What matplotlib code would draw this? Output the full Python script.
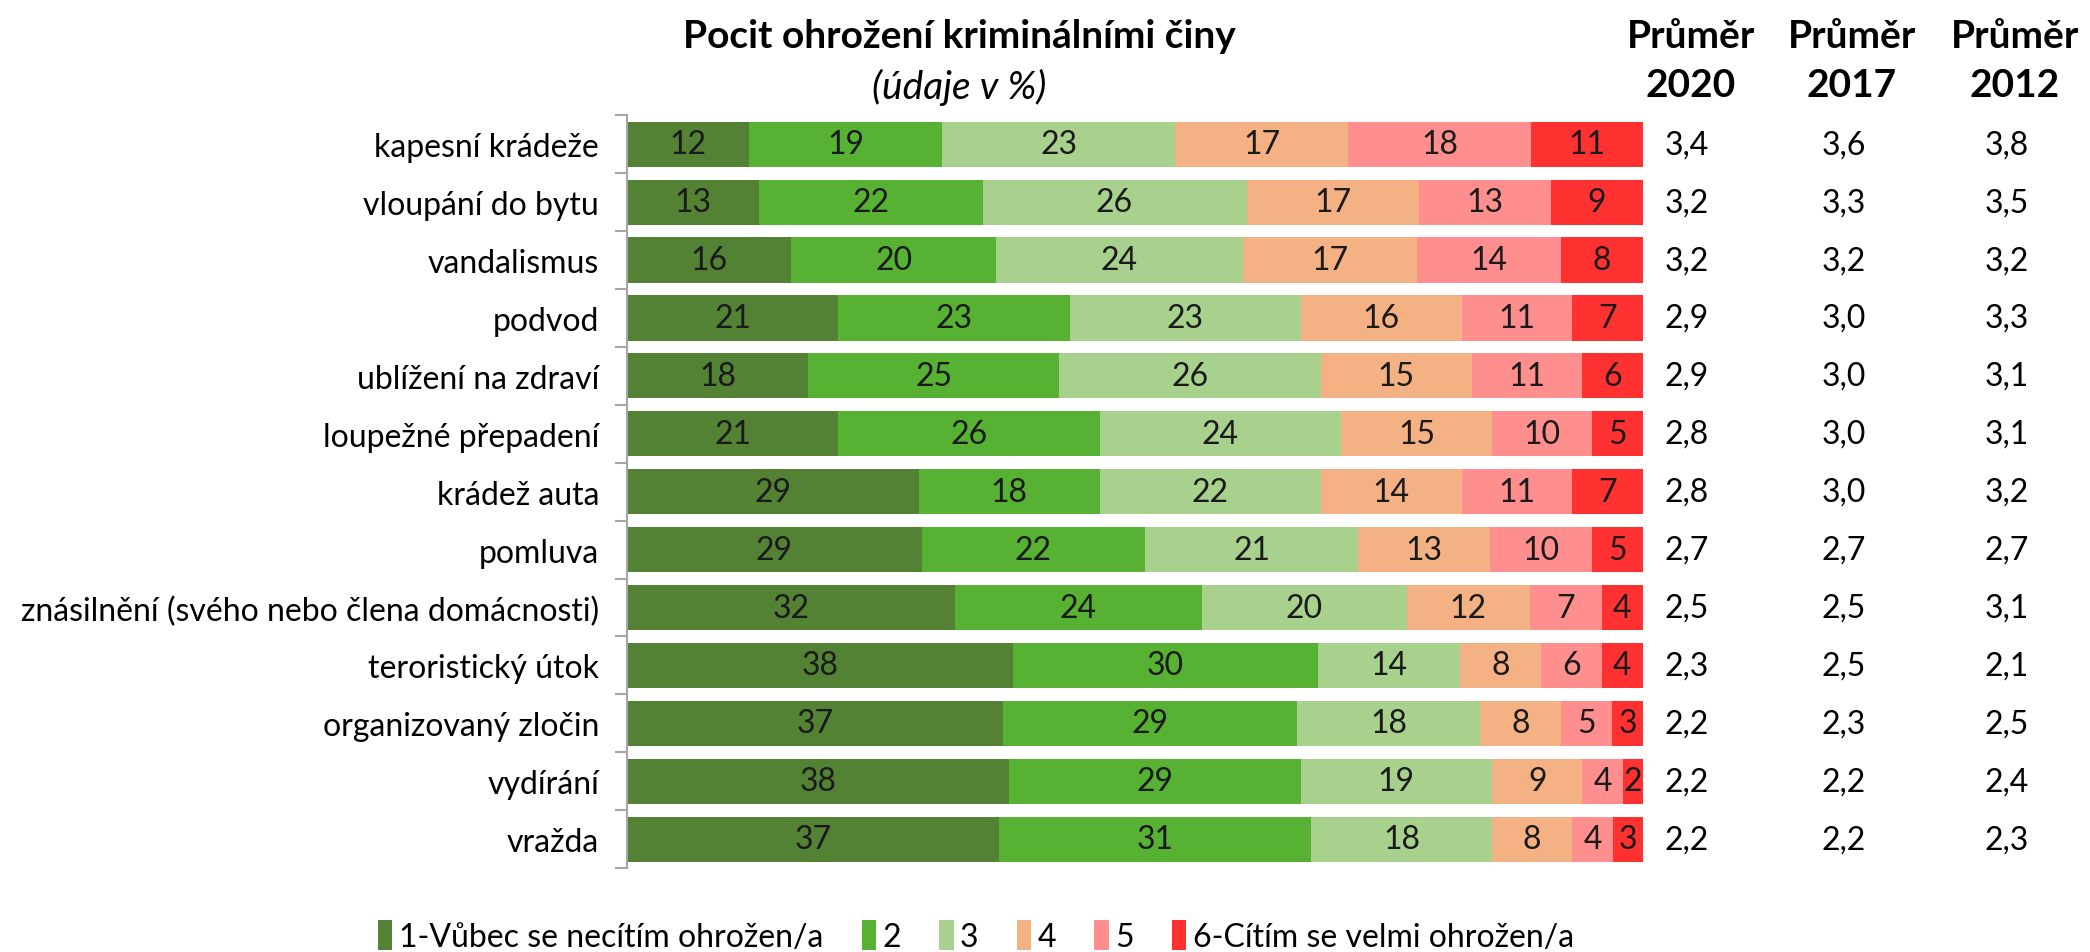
import numpy as np
import matplotlib.pyplot as plt
from matplotlib.patches import Patch

plt.rcParams['font.family'] = ['Lato', 'DejaVu Sans']

categories = ['kapesní krádeže', 'vloupání do bytu', 'vandalismus', 'podvod',
              'ublížení na zdraví', 'loupežné přepadení', 'krádež auta', 'pomluva',
              'znásilnění (svého nebo člena domácnosti)', 'teroristický útok',
              'organizovaný zločin', 'vydírání', 'vražda']

s1 = [12, 13, 16, 21, 18, 21, 29, 29, 32, 38, 37, 38, 37]
s2 = [19, 22, 20, 23, 25, 26, 18, 22, 24, 30, 29, 29, 31]
s3 = [23, 26, 24, 23, 26, 24, 22, 21, 20, 14, 18, 19, 18]
s4 = [17, 17, 17, 16, 15, 15, 14, 13, 12, 8, 8, 9, 8]
s5 = [18, 13, 14, 11, 11, 10, 11, 10, 7, 6, 5, 4, 4]
s6 = [11, 9, 8, 7, 6, 5, 7, 5, 4, 4, 3, 2, 3]

avg2020 = ['3,4', '3,2', '3,2', '2,9', '2,9', '2,8', '2,8', '2,7', '2,5', '2,3', '2,2', '2,2', '2,2']
avg2017 = ['3,6', '3,3', '3,2', '3,0', '3,0', '3,0', '3,0', '2,7', '2,5', '2,5', '2,3', '2,2', '2,2']
avg2012 = ['3,8', '3,5', '3,2', '3,3', '3,1', '3,1', '3,2', '2,7', '3,1', '2,1', '2,5', '2,4', '2,3']

legend_labels = ['1-Vůbec se necítím ohrožen/a', '2', '3', '4', '5', '6-Cítím se velmi ohrožen/a']
colors = ['#548235', '#57B133', '#A9D18E', '#F4B183', '#FF8F8F', '#FF3131']

series = np.array([s1, s2, s3, s4, s5, s6], dtype=float)
shares = series / series.sum(axis=0) * 100

fig = plt.figure(figsize=(20.9, 9.53), dpi=100)
ax = fig.add_axes([0.300, 0.088, 0.486, 0.790])

y = np.arange(len(categories))
left = np.zeros(len(categories))
for k in range(6):
    ax.barh(y, shares[k], left=left, height=0.78, color=colors[k], linewidth=0)
    for i in range(len(categories)):
        ax.text(left[i] + shares[k][i] / 2, y[i], str(int(series[k][i])),
                ha='center', va='center', fontsize=23, color='#1a1a1a')
    left += shares[k]

ax.set_xlim(0, 100)
ax.set_ylim(len(categories) - 0.5, -0.5)
ax.set_yticks(y)
ax.set_yticklabels(categories, fontsize=23)
ax.tick_params(axis='y', which='major', length=0, pad=20)
ax.set_yticks(np.arange(-0.5, len(categories)), minor=True)
ax.tick_params(axis='y', which='minor', length=9, color='#A6A6A6', width=1.5)
ax.set_xticks([])
for side in ['top', 'right', 'bottom']:
    ax.spines[side].set_visible(False)
ax.spines['left'].set_color('#A6A6A6')
ax.spines['left'].set_linewidth(1.5)

col_x = [1.043, 1.198, 1.358]
for cx, vals in zip(col_x, [avg2020, avg2017, avg2012]):
    for i, v in enumerate(vals):
        ax.text(cx, y[i], v, ha='center', va='center', fontsize=23,
                transform=ax.get_yaxis_transform(), clip_on=False)

fig.text(0.459, 0.962, 'Pocit ohrožení kriminálními činy', ha='center', va='center',
         fontsize=28, fontweight='bold')
fig.text(0.459, 0.908, '(údaje v %)', ha='center', va='center', fontsize=28, style='italic')

for fx, yr in zip([0.809, 0.886, 0.964], ['2020', '2017', '2012']):
    fig.text(fx, 0.962, 'Průměr', ha='center', va='center', fontsize=28, fontweight='bold')
    fig.text(fx, 0.910, yr, ha='center', va='center', fontsize=28, fontweight='bold')

handles = [Patch(facecolor=c, edgecolor='none') for c in colors]
fig.legend(handles, legend_labels, loc='center', bbox_to_anchor=(0.467, 0.017), ncol=6,
           frameon=False, fontsize=23, handlelength=0.45, handleheight=1.1,
           handletextpad=0.2, columnspacing=1.2)

fig.savefig('out.png', dpi=100)
